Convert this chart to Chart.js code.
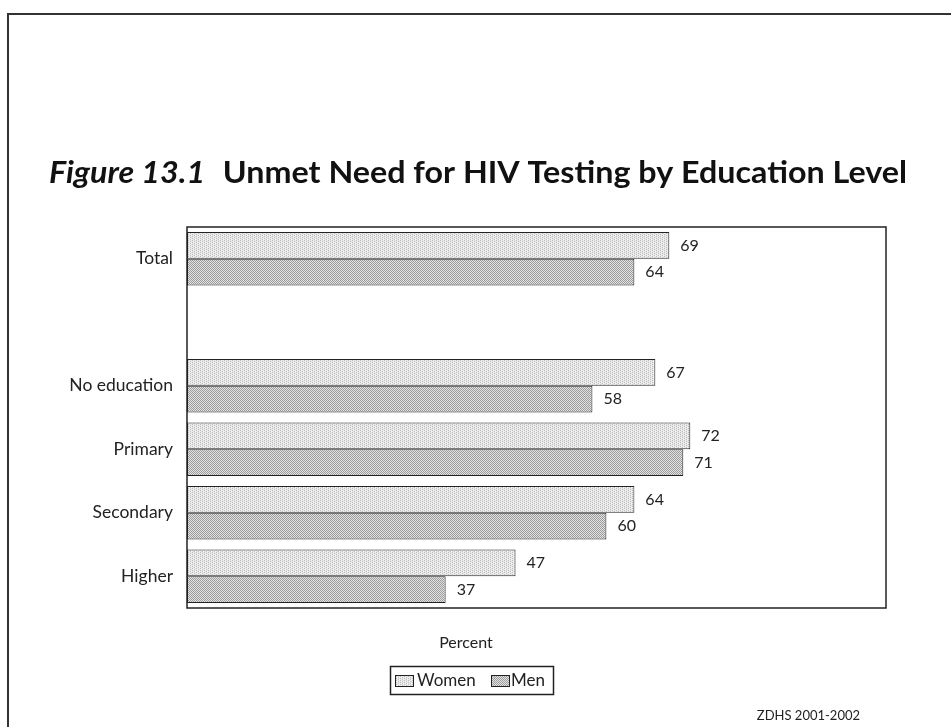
<!DOCTYPE html>
<html><head><meta charset="utf-8">
<script src="https://cdn.jsdelivr.net/npm/chart.js@4/dist/chart.umd.min.js"></script>
<style>html,body{margin:0;padding:0;background:#fff;}#wrap{width:951px;height:727px;position:relative;}</style>
</head><body><div id="wrap"><canvas id="c" width="951" height="727"></canvas></div>
<script>
const categories = ['Total', '', 'No education', 'Primary', 'Secondary', 'Higher'];
const women = [69, null, 67, 72, 64, 47];
const men = [64, null, 58, 71, 60, 37];
const seriesNames = ['Women', 'Men'];
const xMin = 0, xMax = 100;
const titleItalic = 'Figure 13.1';
const titleBold = 'Unmet Need for HIV Testing by Education Level';
const axisTitle = 'Percent';
const sourceNote = 'ZDHS 2001-2002';

const FONT = 'Lato, "Open Sans", sans-serif';

function makePattern(kind) {
  const c = document.createElement('canvas');
  c.width = 4; c.height = 4;
  const x = c.getContext('2d');
  if (kind === 'women') {
    x.fillStyle = '#e9e9e9'; x.fillRect(0, 0, 4, 4);
    x.fillStyle = '#bcbcbc';
    [[0,0],[2,1],[0,2],[2,3]].forEach(p => x.fillRect(p[0], p[1], 1, 1));
    x.fillStyle = '#f8f8f8';
    [[1,1],[3,3]].forEach(p => x.fillRect(p[0], p[1], 1, 1));
  } else {
    x.fillStyle = '#e2e2e2'; x.fillRect(0, 0, 4, 4);
    x.fillStyle = '#9c9c9c';
    for (let i = 0; i < 4; i++) for (let j = 0; j < 4; j++) if ((i + j) % 2 === 0) x.fillRect(i, j, 1, 1);
  }
  return x.createPattern(c, 'repeat');
}
const fills = [makePattern('women'), makePattern('men')];

const deco = {
  id: 'deco',
  afterDraw(chart) {
    const ctx = chart.ctx;
    const a = chart.chartArea;
    ctx.save();
    // outer frame (left + top)
    ctx.strokeStyle = '#333'; ctx.lineWidth = 2;
    ctx.beginPath(); ctx.moveTo(8, 727); ctx.lineTo(8, 14); ctx.lineTo(951, 14); ctx.stroke();
    // plot box
    ctx.strokeStyle = '#222'; ctx.lineWidth = 1.5;
    ctx.strokeRect(a.left, a.top, a.right - a.left, a.bottom - a.top);
    // value labels
    ctx.fillStyle = '#222';
    ctx.font = '16px ' + FONT;
    ctx.textBaseline = 'middle'; ctx.textAlign = 'left';
    chart.data.datasets.forEach((ds, di) => {
      const meta = chart.getDatasetMeta(di);
      meta.data.forEach((el, i) => {
        const v = ds.data[i];
        if (v === null || v === undefined) return;
        ctx.fillText(String(v), el.x + 11, el.y);
      });
    });
    // title
    const fs = 30;
    ctx.textBaseline = 'alphabetic';
    ctx.font = 'italic bold ' + fs + 'px ' + FONT;
    const w1 = ctx.measureText(titleItalic).width;
    ctx.font = 'bold ' + fs + 'px ' + FONT;
    const gap = fs * 0.55;
    const w2 = ctx.measureText(titleBold).width;
    const total = w1 + gap + w2;
    const target = 858;
    const sx = target / total;
    ctx.save();
    ctx.translate(49, 183);
    ctx.scale(sx, 1);
    ctx.fillStyle = '#111';
    ctx.font = 'italic bold ' + fs + 'px ' + FONT;
    ctx.fillText(titleItalic, 0, 0);
    ctx.font = 'bold ' + fs + 'px ' + FONT;
    ctx.fillText(titleBold, w1 + gap, 0);
    ctx.restore();
    // axis title
    ctx.fillStyle = '#222';
    ctx.font = '16px ' + FONT;
    ctx.textAlign = 'center'; ctx.textBaseline = 'middle';
    ctx.fillText(axisTitle, 466, 643);
    // legend
    ctx.strokeStyle = '#222'; ctx.lineWidth = 1.5;
    ctx.strokeRect(390.5, 666.5, 163, 28);
    ctx.textAlign = 'left';
    ctx.font = '17px ' + FONT;
    const sw = [[395, 417], [491, 511]];
    chart.data.datasets.forEach((ds, di) => {
      ctx.fillStyle = ds.backgroundColor;
      ctx.fillRect(sw[di][0], 675, 19, 12);
      ctx.lineWidth = 1;
      ctx.strokeRect(sw[di][0] + 0.5, 675.5, 18, 11);
      ctx.fillStyle = '#222';
      ctx.fillText(ds.label, sw[di][1], 681);
    });
    // source
    ctx.font = '13px ' + FONT;
    ctx.textAlign = 'right';
    ctx.fillText(sourceNote, 860, 716);
    ctx.restore();
  }
};

new Chart(document.getElementById('c'), {
  type: 'bar',
  data: {
    labels: categories,
    datasets: [
      { label: seriesNames[0], data: women, backgroundColor: fills[0] },
      { label: seriesNames[1], data: men, backgroundColor: fills[1] }
    ]
  },
  options: {
    indexAxis: 'y',
    responsive: false,
    animation: false,
    devicePixelRatio: 1,
    layout: { padding: { top: 227, right: 65, bottom: 119, left: 0 } },
    datasets: { bar: { barPercentage: 1, categoryPercentage: 0.84, borderWidth: 1, borderColor: '#222', borderSkipped: false } },
    scales: {
      x: { min: xMin, max: xMax, display: false },
      y: {
        grid: { display: false, drawTicks: false },
        border: { display: false },
        ticks: { color: '#222', font: { size: 17.5, family: FONT }, padding: 14 },
        afterFit: s => { s.width = 187; }
      }
    },
    plugins: { legend: { display: false }, title: { display: false }, tooltip: { enabled: false } }
  },
  plugins: [deco]
});
</script>
</body></html>
